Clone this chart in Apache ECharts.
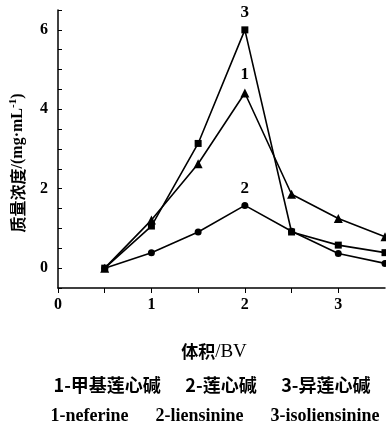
<!DOCTYPE html>
<html>
<head>
<meta charset="utf-8">
<script src="https://cdn.jsdelivr.net/npm/echarts@6/dist/echarts.min.js"></script>
<style>
  html, body { margin: 0; padding: 0; background: #fff; }
  #chart { width: 386px; height: 424px; }
</style>
</head>
<body>
<div id="chart"></div>
<script>
// bed volumes (BV) where samples were taken
const volumes = [0.5, 1, 1.5, 2, 2.5, 3, 3.5];
// mass concentration, mg/mL
const neferine = [0, 1.21, 2.63, 4.41, 1.86, 1.25, 0.79];        // 1, triangles
const liensinine = [0, 0.39, 0.91, 1.58, 0.93, 0.37, 0.12];      // 2, circles
const isoliensinine = [0, 1.06, 3.14, 6.0, 0.91, 0.58, 0.39];    // 3, squares
const curveNames = ['1', '2', '3'];

const serif = '"Liberation Serif", "DejaVu Serif", serif';
const cjk = '"Noto Sans CJK SC", sans-serif';

const chart = echarts.init(document.getElementById('chart'));

function makeSeries(name, values, symbol, size) {
  return {
    name: name,
    type: 'line',
    data: volumes.map((v, i) => [v, values[i]]),
    symbol: symbol,
    symbolSize: size,
    showAllSymbol: true,
    itemStyle: { color: '#000' },
    lineStyle: { color: '#000', width: 1.6 },
    label: {
      show: true,
      position: 'top',
      distance: 5,
      color: '#000',
      fontFamily: serif,
      fontWeight: 'bold',
      fontSize: 17,
      formatter: (p) => (p.dataIndex === 3 ? name : '')
    },
    animation: false
  };
}

const option = {
  backgroundColor: '#fff',
  grid: { left: 58, right: 1, top: 10, bottom: 136 },
  xAxis: {
    type: 'value',
    min: 0,
    max: 3.5,
    interval: 0.5,
    axisLine: { onZero: false, lineStyle: { color: '#000', width: 1.5 } },
    axisTick: { show: true, inside: false, length: 5, lineStyle: { color: '#000' } },
    axisLabel: {
      color: '#000',
      fontFamily: serif,
      fontWeight: 'bold',
      fontSize: 16,
      margin: 9,
      showMaxLabel: false,
      formatter: (v) => (v % 1 === 0 ? String(v) : '')
    },
    splitLine: { show: false }
  },
  yAxis: {
    type: 'value',
    min: -0.5,
    max: 6.5,
    interval: 0.5,
    axisLine: { show: true, onZero: false, lineStyle: { color: '#000', width: 1.5 } },
    axisTick: { show: true, inside: true, length: 4, lineStyle: { color: '#000' } },
    axisLabel: {
      color: '#000',
      fontFamily: serif,
      fontWeight: 'bold',
      fontSize: 16,
      margin: 10,
      formatter: (v) => (v >= 0 && v % 2 === 0 ? String(v) : '')
    },
    splitLine: { show: false }
  },
  series: [
    makeSeries(curveNames[0], neferine, 'triangle', 9),
    makeSeries(curveNames[1], liensinine, 'circle', 7),
    makeSeries(curveNames[2], isoliensinine, 'rect', 7)
  ],
  graphic: [
    {
      type: 'text',
      x: 18,
      y: 163,
      rotation: Math.PI / 2,
      style: {
        text: '{c|质量浓度}{s|/(mg·mL}{sup|-1}{s|)}',
        textAlign: 'center',
        textVerticalAlign: 'middle',
        rich: {
          c: { fontFamily: cjk, fontWeight: 'bold', fontSize: 16, fill: '#000' },
          s: { fontFamily: serif, fontWeight: 'bold', fontSize: 16, fill: '#000' },
          sup: { fontFamily: serif, fontWeight: 'bold', fontSize: 11, fill: '#000', verticalAlign: 'top', padding: [0, 0, 9, 0] }
        }
      }
    },
    {
      type: 'text',
      x: 214,
      y: 352,
      style: {
        text: '{c|体积}{s|/BV}',
        textAlign: 'center',
        textVerticalAlign: 'middle',
        rich: {
          c: { fontFamily: cjk, fontWeight: 'bold', fontSize: 17, fill: '#000' },
          s: { fontFamily: serif, fontSize: 19, fill: '#000' }
        }
      }
    },
    {
      type: 'text',
      x: 212,
      y: 385,
      style: {
        text: '1-甲基莲心碱      2-莲心碱      3-异莲心碱',
        textAlign: 'center',
        textVerticalAlign: 'middle',
        fontFamily: cjk,
        fontWeight: 'bold',
        fontSize: 18,
        fill: '#000'
      }
    },
    {
      type: 'text',
      x: 215,
      y: 416,
      style: {
        text: '1-neferine      2-liensinine      3-isoliensinine',
        textAlign: 'center',
        textVerticalAlign: 'middle',
        fontFamily: serif,
        fontWeight: 'bold',
        fontSize: 18,
        fill: '#000'
      }
    }
  ]
};

chart.setOption(option);
</script>
</body>
</html>
